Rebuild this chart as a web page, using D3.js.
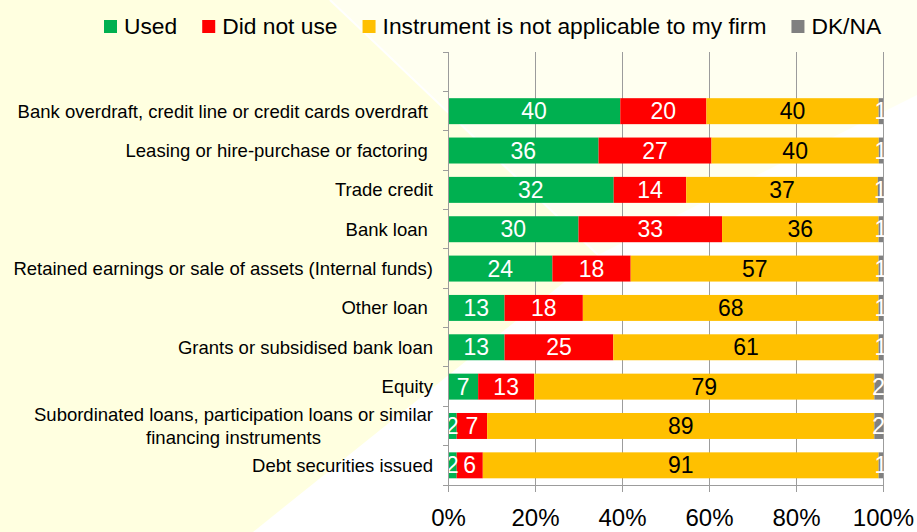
<!DOCTYPE html>
<html><head><meta charset="utf-8">
<script src="https://cdn.jsdelivr.net/npm/d3@7"></script>
<style>
html,body{margin:0;padding:0;background:#fff;overflow:hidden;}
svg{display:block;font-family:"Liberation Sans",Arial,sans-serif;}
</style>
</head><body>
<svg id="chart" width="917" height="532"></svg>
<script>
// ---- data ----
const categories = [
  "Bank overdraft, credit line or credit cards overdraft ",
  "Leasing or hire-purchase or factoring ",
  "Trade credit",
  "Bank loan ",
  "Retained earnings or sale of assets (Internal funds)",
  "Other loan ",
  "Grants or subsidised bank loan",
  "Equity",
  "Subordinated loans, participation loans or similar financing instruments",
  "Debt securities issued"
];
const seriesNames = ["Used", "Did not use", "Instrument is not applicable to my firm", "DK/NA"];
const used          = [40, 36, 32, 30, 24, 13, 13, 7, 2, 2];
const didNotUse     = [20, 27, 14, 33, 18, 18, 25, 13, 7, 6];
const notApplicable = [40, 40, 37, 36, 57, 68, 61, 79, 89, 91];
const dkNa          = [1, 1, 1, 1, 1, 1, 1, 2, 2, 1];
const xTickValues = [0, 0.2, 0.4, 0.6, 0.8, 1];
const xTickLabels = ["0%", "20%", "40%", "60%", "80%", "100%"];

// ---- styles ----
const seriesColors = ["#00B050", "#FF0000", "#FFC000", "#808080"];
const labelColors  = ["#FFFFFF", "#FFFFFF", "#000000", "#FFFFFF"];

const svg = d3.select("#chart");
const W = 917, H = 532;

// background shapes
svg.append("rect").attr("width", W).attr("height", H).attr("fill", "#FFFFFF");
svg.append("polygon").attr("points", "330,0 917,0 917,95 598,255").attr("fill", "#FFFFF0");
svg.append("polygon").attr("points", "0,0 330,0 598,255 253,532 0,532").attr("fill", "#FFFFE0");
svg.append("line").attr("x1", 330).attr("y1", 0).attr("x2", 598).attr("y2", 255)
  .attr("stroke", "#FFFFFF").attr("stroke-width", 2);

// ---- data table ----
const rows = categories.map((c, i) => ({
  cat: c,
  [seriesNames[0]]: used[i],
  [seriesNames[1]]: didNotUse[i],
  [seriesNames[2]]: notApplicable[i],
  [seriesNames[3]]: dkNa[i]
}));
const stacked = d3.stack().keys(seriesNames).offset(d3.stackOffsetExpand)(rows);

// ---- scales ----
const x = d3.scaleLinear().domain([0, 1]).range([448, 883]);
const y = d3.scaleBand().domain(categories).range([91.5, 485]).paddingInner(0.34).paddingOuter(0.17);
const step = y.step();
const plotTop = y.range()[0] - step;
const plotBottom = y.range()[1];
const axisColor = "#9C9C9C";

// gridlines
svg.append("g").selectAll("line").data(xTickValues.slice(1)).join("line")
  .attr("x1", d => x(d)).attr("x2", d => x(d))
  .attr("y1", plotTop).attr("y2", plotBottom)
  .attr("stroke", axisColor).attr("stroke-width", 1).attr("shape-rendering", "crispEdges");

// bars
const layers = svg.append("g").selectAll("g").data(stacked).join("g")
  .attr("fill", (d, i) => seriesColors[i]);
layers.selectAll("rect").data(d => d).join("rect")
  .attr("x", d => x(d[0]))
  .attr("width", d => x(d[1]) - x(d[0]))
  .attr("y", d => y(d.data.cat))
  .attr("height", y.bandwidth());

// value labels
stacked.forEach((layer, li) => {
  svg.append("g").selectAll("text").data(layer).join("text")
    .attr("x", d => (x(d[0]) + x(d[1])) / 2)
    .attr("y", d => y(d.data.cat) + y.bandwidth() / 2)
    .attr("dy", "0.35em")
    .attr("text-anchor", "middle")
    .attr("font-size", 23)
    .attr("fill", labelColors[li])
    .text(d => d.data[layer.key]);
});

// x axis
const xAxis = d3.axisBottom(x).tickValues(xTickValues)
  .tickFormat((d, i) => xTickLabels[i]).tickSize(7).tickSizeOuter(0).tickPadding(17);
const gx = svg.append("g").attr("transform", `translate(0,${plotBottom})`).call(xAxis);
gx.select(".domain").attr("stroke", axisColor);
gx.selectAll(".tick line").attr("stroke", axisColor);
gx.selectAll(".tick text").attr("font-size", 24).attr("fill", "#000")
  .attr("font-family", "Liberation Sans, Arial, sans-serif");

// y axis line + ticks at band boundaries
svg.append("line").attr("x1", x(0)).attr("x2", x(0)).attr("y1", plotTop).attr("y2", plotBottom)
  .attr("stroke", axisColor).attr("shape-rendering", "crispEdges");
const boundaries = d3.range(categories.length + 2).map(k => plotTop + k * step);
svg.append("g").selectAll("line").data(boundaries).join("line")
  .attr("x1", x(0) - 5).attr("x2", x(0)).attr("y1", d => d).attr("y2", d => d)
  .attr("stroke", axisColor).attr("shape-rendering", "crispEdges");

// category labels (wrap long ones)
const labelRight = 433;
const labelG = svg.append("g").attr("font-size", 18.5).attr("fill", "#000");
categories.forEach(c => {
  const cy = y(c) + y.bandwidth() / 2;
  const t = labelG.append("text").attr("x", labelRight).attr("y", cy).attr("dy", "0.35em")
    .attr("text-anchor", "end").style("white-space", "pre").text(c);
  const maxW = 432;
  if (t.node().getComputedTextLength() > maxW) {
    const words = c.trim().split(" ");
    let line1 = [], rest = [];
    for (let k = 0; k < words.length; k++) {
      t.text([...line1, words[k]].join(" "));
      if (t.node().getComputedTextLength() > maxW && line1.length) { rest = words.slice(k); break; }
      line1.push(words[k]);
    }
    t.text(line1.join(" ")).attr("y", cy - 11.8);
    const w1 = t.node().getComputedTextLength();
    labelG.append("text").attr("x", labelRight - w1 / 2).attr("y", cy + 11.8).attr("dy", "0.35em")
      .attr("text-anchor", "middle").text(rest.join(" "));
  }
});

// legend
const legend = svg.append("g").attr("font-size", 22.8).attr("fill", "#000");
let lx = 104;
seriesNames.forEach((name, i) => {
  legend.append("rect").attr("x", lx).attr("y", 20).attr("width", 13).attr("height", 13)
    .attr("fill", seriesColors[i]);
  const t = legend.append("text").attr("x", lx + 20).attr("y", 33.5).text(name);
  lx += 20 + t.node().getComputedTextLength() + 25;
});
</script>
</body></html>
